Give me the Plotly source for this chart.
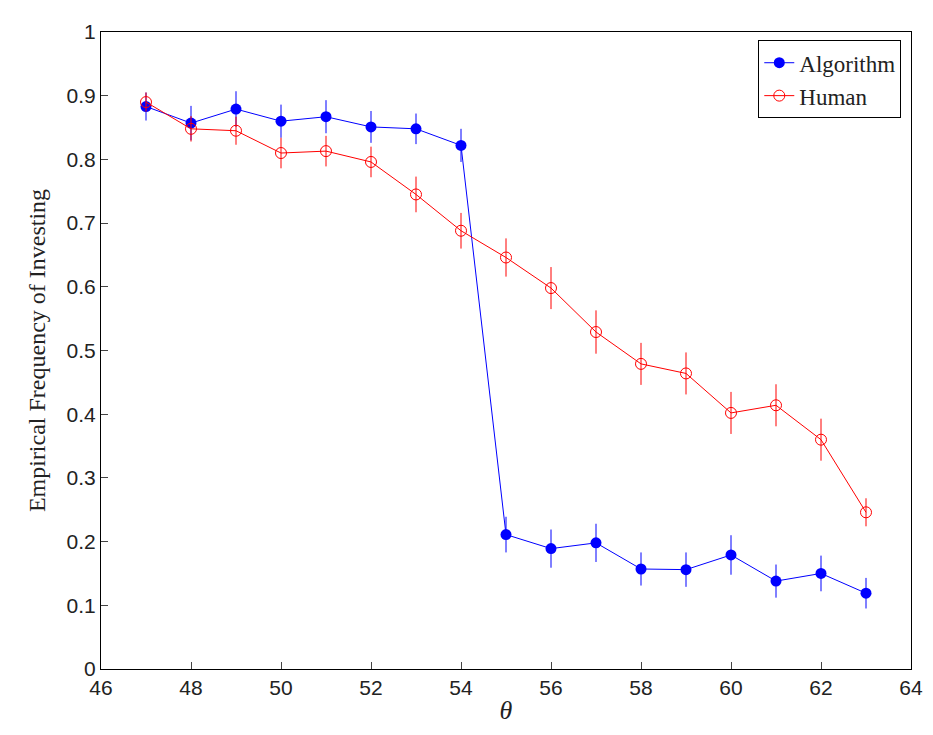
import plotly.graph_objects as go

theta = list(range(47, 64))
algo = [0.883, 0.857, 0.879, 0.860, 0.867, 0.851, 0.848, 0.822, 0.211, 0.189,
        0.198, 0.157, 0.156, 0.179, 0.138, 0.150, 0.119]
algo_err = [0.022, 0.027, 0.028, 0.026, 0.026, 0.025, 0.024, 0.026, 0.028, 0.030,
            0.030, 0.026, 0.027, 0.031, 0.026, 0.028, 0.024]
human = [0.890, 0.848, 0.845, 0.810, 0.813, 0.796, 0.745, 0.688, 0.646, 0.598,
         0.529, 0.479, 0.464, 0.402, 0.414, 0.360, 0.246]
human_err = [0.015, 0.020, 0.022, 0.024, 0.024, 0.024, 0.028, 0.028, 0.030, 0.033,
             0.034, 0.033, 0.033, 0.033, 0.033, 0.033, 0.022]

fig = go.Figure()
fig.add_scatter(x=theta, y=algo, name="Algorithm", mode="lines+markers",
                line=dict(color="blue", width=1),
                marker=dict(color="blue", size=11),
                error_y=dict(array=algo_err, color="blue", width=0, thickness=1))
fig.add_scatter(x=theta, y=human, name="Human", mode="lines+markers",
                line=dict(color="red", width=1),
                marker=dict(color="red", size=11, symbol="circle-open", line=dict(width=1)),
                error_y=dict(array=human_err, color="red", width=0, thickness=1))

axis = dict(showline=True, mirror=True, linecolor="black", linewidth=1, ticks="inside",
            ticklen=7, showgrid=False, zeroline=False,
            tickfont=dict(family="Liberation Sans, Arial", size=21, color="#222"))
serif = "Liberation Serif, Times New Roman"
fig.update_layout(
    width=933, height=735, plot_bgcolor="white", paper_bgcolor="white",
    margin=dict(l=93, r=30, t=18, b=74),
    xaxis=dict(axis, range=[46, 64], dtick=2,
               title=dict(text="<i>θ</i>", standoff=2,
                          font=dict(family=serif, size=26, color="#222"))),
    yaxis=dict(axis, range=[0, 1], dtick=0.1, tickformat="~g",
               title=dict(text="Empirical Frequency of Investing", standoff=14,
                          font=dict(family=serif, size=24, color="#222"))),
    legend=dict(x=0.988, y=0.987, xanchor="right", yanchor="top", bordercolor="black",
                borderwidth=1, font=dict(family=serif, size=23, color="#222")),
)
fig.write_html("out.html")
